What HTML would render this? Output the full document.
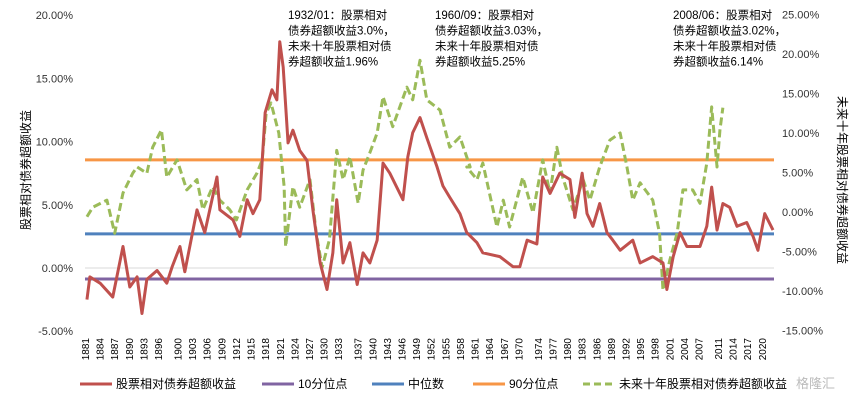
<!DOCTYPE html>
<html><head><meta charset="utf-8">
<style>
body{margin:0;background:#fff;}
svg{display:block;font-family:"Liberation Sans","Noto Sans CJK SC",sans-serif;}
</style></head>
<body>
<svg id="chart" width="862" height="406" viewBox="0 0 862 406">
<g id="axes"></g><g id="lines"></g><g id="series"></g><g id="notes"></g><g id="legend"></g>
<text x="796" y="388" font-size="13" fill="#bbb">格隆汇</text>
</svg>
<script>
const leftTicks=[20,15,10,5,0,-5];
const rightTicks=[25,20,15,10,5,0,-5,-10,-15];
const xLabels=[1881,1884,1887,1890,1893,1896,1900,1903,1906,1909,1912,1915,1918,1921,1924,1927,1930,1933,1937,1940,1943,1946,1949,1952,1955,1958,1961,1964,1967,1970,1974,1977,1980,1983,1986,1989,1992,1995,1998,2001,2004,2007,2011,2014,2017,2020];
const p10=-0.87, median=2.7, p90=8.55;
const redYears=[1881.4,1882,1884.1,1886.7,1888.8,1890.2,1891.7,1892.7,1893.7,1895.8,1897.8,1898.9,1900.5,1901.5,1904,1905.6,1908.1,1908.7,1911.4,1912.8,1914.3,1915.5,1916.9,1918,1919.4,1920.4,1921,1921.7,1922.7,1923.7,1925.1,1926.6,1927.8,1929.3,1930.7,1931.9,1932.7,1934,1935.4,1936.9,1938.1,1939.5,1941,1942.2,1943.6,1946.3,1947.3,1948.3,1949.8,1951.2,1953.3,1954.5,1955.9,1958,1959.4,1961.5,1962.7,1966.2,1968.9,1970.3,1971.8,1973.8,1975,1976.5,1978.5,1980.6,1981.6,1983.1,1984.1,1985.3,1986.7,1988.2,1989.4,1990.9,1993.5,1995,1997.6,1999.7,2000.5,2001.8,2003.2,2004.6,2007.3,2008.7,2009.7,2010.8,2012,2013.4,2014.9,2016.9,2018.2,2019.2,2020.6,2022.3];
const redValues=[-2.5,-0.7,-1.2,-2.3,1.7,-1.5,-0.7,-3.6,-0.9,-0.2,-1.2,0.1,1.7,-0.3,4.6,2.8,7.2,4.6,3.8,2.5,5.4,4.3,5.4,12.3,14.1,13.3,17.9,15.9,9.9,10.9,9.3,8.5,4.6,0.4,-1.7,1.2,5.4,0.4,2.0,-1.3,1.2,0.4,2.2,8.3,7.5,5.4,8.8,10.7,11.9,10.3,8.0,6.5,5.6,4.3,2.8,2.0,1.2,0.9,0.1,0.1,2.2,1.9,7.2,5.9,7.5,7.0,4.0,7.5,4.3,3.3,5.1,2.8,2.2,1.4,2.2,0.4,0.9,0.4,-1.7,0.9,2.8,1.7,1.7,3.3,6.4,3.0,5.1,4.8,3.3,3.6,2.5,1.4,4.3,3.0];
const greenYears=[1881.4,1882.6,1885.5,1887.1,1888.8,1890.8,1891.7,1893.7,1894.9,1896.7,1897.8,1899.9,1901.9,1904,1905.2,1907.2,1908.7,1910.7,1912.1,1914.3,1916.3,1917.4,1918.2,1919.2,1920.8,1921.9,1922.2,1923.7,1925.1,1927.2,1928.5,1929.7,1931.2,1932.7,1934,1935.4,1937.1,1938.1,1939.5,1941,1942.2,1944.2,1947.1,1948.3,1949.8,1951.2,1953.9,1955.9,1958,1960.1,1959.4,1961.5,1962.7,1965.6,1966.9,1968.2,1970.9,1973,1975,1976.5,1977.9,1979.1,1981.2,1983.3,1984.7,1986.7,1988.8,1990.9,1992.3,1993.5,1995,1997.6,1999,1999.7,2001.1,2002.6,2003.8,2005.8,2007.3,2008.7,2009.7,2010.8,2011.4,2012];
const greenValues=[-0.6,0.6,1.5,-2.7,2.4,4.9,5.7,4.9,8.2,10.4,4.4,6.6,2.8,4.1,0.3,3.2,1.5,0.3,-1.0,2.8,4.9,6.6,12.5,13.8,10.0,3.2,-4.4,3.2,0.6,4.1,-2.7,-7.0,-3.5,7.8,4.1,7.0,1.1,5.3,7.5,10.0,14.6,10.8,15.8,14.2,19.2,14.2,12.9,8.2,9.5,5.7,5.7,4.1,6.2,-1.9,1.5,-1.9,4.4,-0.1,6.6,2.4,8.2,4.4,0.3,4.1,1.5,5.7,9.1,10.0,5.7,1.5,3.7,1.5,-2.7,-9.9,-6.1,-2.7,2.8,2.8,1.1,6.2,13.3,5.7,10.4,13.2];

const X0=85,X1=774,Y0=1881,Y1=2022.5;
const sx=y=>X0+(y-Y0)/(Y1-Y0)*(X1-X0);
const syL=v=>268-v*12.64;
const syR=v=>212-v*7.9;
const NS="http://www.w3.org/2000/svg";
function mk(parent,tag,attrs){const e=document.createElementNS(NS,tag);for(const k in attrs)e.setAttribute(k,attrs[k]);parent.appendChild(e);return e;}
const axes=document.getElementById('axes');
const zl=mk(axes,'line',{x1:X0,x2:X1,y1:syL(0),y2:syL(0),stroke:'#d9d9d9','stroke-width':1});


leftTicks.forEach(v=>{const t=mk(axes,'text',{x:73,y:syL(v)+4,'font-size':11,'text-anchor':'end',fill:'#333'});t.textContent=v.toFixed(2)+'%';

});
rightTicks.forEach(v=>{const t=mk(axes,'text',{x:782,y:syR(v)+4,'font-size':11,fill:'#333'});t.textContent=v.toFixed(2)+'%';

});
xLabels.forEach(y=>{const x=sx(y);const t=mk(axes,'text',{x:0,y:0,'font-size':10,'text-anchor':'end',fill:'#000',transform:`translate(${x+4},${338}) rotate(-90)`});t.textContent=y;

});
const lt=mk(axes,'text',{x:0,y:0,'font-size':12,'text-anchor':'middle',fill:'#000',transform:'translate(30,170) rotate(-90)'});lt.textContent='股票相对债券超额收益';


const rt=mk(axes,'text',{x:0,y:0,'font-size':12,'text-anchor':'middle',fill:'#000',transform:'translate(838,180) rotate(90)'});rt.textContent='未来十年股票相对债券超额收益';



const lines=document.getElementById('lines');
[[p10,'#8064a2','p10-line'],[median,'#4f81bd','median-line'],[p90,'#f79646','p90-line']].forEach(([v,c,n])=>{
const l=mk(lines,'line',{x1:X0,x2:X1,y1:syL(v),y2:syL(v),stroke:c,'stroke-width':3});

});

const series=document.getElementById('series');
const gp=mk(series,'polyline',{points:greenYears.map((y,i)=>sx(y)+','+syR(greenValues[i])).join(' '),fill:'none',stroke:'#9bbb59','stroke-width':3,'stroke-dasharray':'8,4','stroke-linejoin':'round'});


const rp=mk(series,'polyline',{points:redYears.map((y,i)=>sx(y)+','+syL(redValues[i])).join(' '),fill:'none',stroke:'#c0504d','stroke-width':3,'stroke-linejoin':'round'});



const notes=document.getElementById('notes');
const noteTexts=[[288,['1932/01：股票相对','债券超额收益3.0%，','未来十年股票相对债','券超额收益1.96%']],[435,['1960/09：股票相对','债券超额收益3.03%，','未来十年股票相对债','券超额收益5.25%']],[673,['2008/06：股票相对','债券超额收益3.02%，','未来十年股票相对债','券超额收益6.14%']]];
noteTexts.forEach(([x,ls])=>{const t=mk(notes,'text',{x:x,y:19,'font-size':11.5,fill:'#000'});


ls.forEach((s,i)=>{const ts=mk(t,'tspan',{x:x,y:19+i*15.5});ts.textContent=s;});});

const legend=document.getElementById('legend');
const legItems=[[80,'#c0504d','股票相对债券超额收益',false],[262,'#8064a2','10分位点',false],[372,'#4f81bd','中位数',false],[473,'#f79646','90分位点',false],[583,'#9bbb59','未来十年股票相对债券超额收益',true]];
legItems.forEach(([x,c,s,d])=>{const g=mk(legend,'g',{});


mk(g,'line',{x1:x,x2:x+32,y1:384,y2:384,stroke:c,'stroke-width':3,'stroke-dasharray':d?'7,4':'none'});
const t=mk(g,'text',{x:x+36,y:388,'font-size':12,fill:'#000'});t.textContent=s;});
</script>
</body></html>
